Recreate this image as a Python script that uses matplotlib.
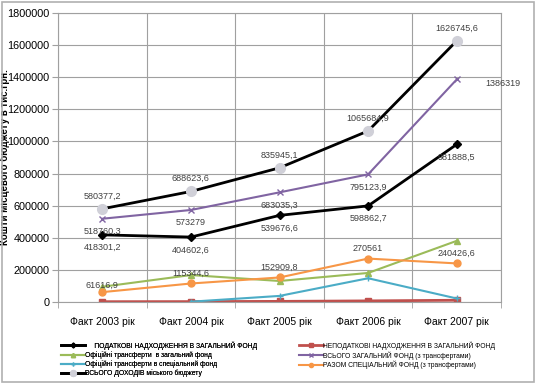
import numpy as np
import matplotlib
matplotlib.use("Agg")
import matplotlib.pyplot as plt
from matplotlib.patches import Rectangle

plt.rcParams['font.family'] = ['Liberation Sans', 'DejaVu Sans']

years = ["Факт 2003 рік", "Факт 2004 рік", "Факт 2005 рік", "Факт 2006 рік", "Факт 2007 рік"]

podatkovi = [418301.2, 404602.6, 539676.6, 598862.7, 981888.5]
nepodatkovi = [2000, 2500, 4000, 7000, 11000]
transf_zag = [95000, 168000, 131000, 181000, 381000]
vsogo_zag = [518760.3, 573279, 683035.3, 795123.9, 1386319]
transf_spec = [np.nan, 2000, 38000, 148000, 22000]
razom_spec = [61616.9, 115344.6, 152909.8, 270561, 240426.6]
vsogo_dohodiv = [580377.2, 688623.6, 835945.1, 1065684.9, 1626745.6]

names = [
    "     ПОДАТКОВІ НАДХОДЖЕННЯ В ЗАГАЛЬНИЙ ФОНД",
    "НЕПОДАТКОВІ НАДХОДЖЕННЯ В ЗАГАЛЬНИЙ ФОНД",
    "Офіційні трансферти  в загальний фонд",
    "ВСЬОГО ЗАГАЛЬНИЙ ФОНД (з трансфертами)",
    "Офіційні трансферти в спеціальний фонд",
    "РАЗОМ СПЕЦІАЛЬНИЙ ФОНД (з трансфертами)",
    "ВСЬОГО ДОХОДІВ міського бюджету",
]

fig = plt.figure(figsize=(5.37, 3.84), dpi=100)
ax = fig.add_axes([0.108, 0.2135, 0.825, 0.7525])
x = np.arange(len(years))

h = {}
h[0], = ax.plot(x, podatkovi, color="black", lw=2, marker="D", ms=4)
h[1], = ax.plot(x, nepodatkovi, color="#C0504D", lw=2, marker="s", ms=5)
h[2], = ax.plot(x, transf_zag, color="#9BBB59", lw=1.5, marker="^", ms=5)
h[3], = ax.plot(x, vsogo_zag, color="#8064A2", lw=1.5, marker="x", ms=5)
h[4], = ax.plot(x, transf_spec, color="#4BACC6", lw=1.5, marker="+", ms=5)
h[5], = ax.plot(x, razom_spec, color="#F79646", lw=1.5, marker="o", ms=5)
h[6], = ax.plot(x, vsogo_dohodiv, color="black", lw=2, marker="o", ms=7,
                markerfacecolor="#D0D0D8", markeredgecolor="#D0D0D8")

lab_kw = dict(fontsize=6.5, color="#404040", ha="center")
fmt = lambda v: ("%.1f" % v).replace(".", ",") if v != int(v) else "%d" % v
for i, v in enumerate(vsogo_dohodiv):
    ax.annotate(fmt(v), (i, v), xytext=(0, 6), textcoords="offset points", va="bottom", **lab_kw)
for i, v in enumerate(vsogo_zag):
    if i < 4:
        ax.annotate(fmt(v), (i, v), xytext=(0, -6), textcoords="offset points", va="top", **lab_kw)
    else:
        ax.annotate(fmt(v), (i, v), xytext=(33, -3), textcoords="offset points", va="center", **lab_kw)
for i, v in enumerate(podatkovi):
    ax.annotate(fmt(v), (i, v), xytext=(0, -6), textcoords="offset points", va="top", **lab_kw)
for i, v in enumerate(razom_spec):
    dy = 4 if i > 0 else 2
    ax.annotate(fmt(v), (i, v), xytext=(0, dy), textcoords="offset points", va="bottom", **lab_kw)

ax.set_xlim(-0.5, 4.5)
ax.set_ylim(0, 1800000)
ax.set_yticks(np.arange(0, 1800001, 200000))
ax.set_yticklabels([str(v) for v in range(0, 1800001, 200000)], fontsize=7.8)
ax.set_xticks(x)
ax.set_xticklabels(years, fontsize=7.5)
ax.set_xticks(np.arange(-0.5, 5, 1), minor=True)
ax.tick_params(axis="x", which="major", length=0, pad=11)
ax.tick_params(axis="x", which="minor", length=4, color="#A0A0A0")
ax.tick_params(axis="y", length=4, color="#A0A0A0", pad=2)
ax.grid(True, axis="y", color="#A0A0A0", lw=0.8)
ax.grid(True, axis="x", which="minor", color="#A0A0A0", lw=0.8)
for s in ax.spines.values():
    s.set_color("#A0A0A0")
    s.set_linewidth(0.8)
ax.set_axisbelow(True)

ax.set_ylabel("Кошти місцевого бюджету в тис.грн.", fontsize=7, fontweight="bold")
ax.yaxis.set_label_coords(-0.108, 0.5)

leg_kw = dict(loc="upper left", fontsize=4.9, frameon=False, handlelength=3.4,
              labelspacing=0.2, borderpad=0, handletextpad=0.1, markerscale=0.6)
col1 = [0, 2, 4, 6]
col2 = [1, 3, 5]
leg1 = fig.legend([h[k] for k in col1], [names[k] for k in col1],
                  bbox_to_anchor=(58 / 537, 1 - 338 / 384), **leg_kw)
fig.legend([h[k] for k in col2], [names[k] for k in col2],
           bbox_to_anchor=(296 / 537, 1 - 338 / 384), **leg_kw)
fig.add_artist(leg1)

fig.patches.append(Rectangle((0.004, 0.006), 0.99, 0.988, transform=fig.transFigure,
                             fill=False, edgecolor="#B0B0B0", lw=1.2))

fig.savefig("out.png", dpi=100)
